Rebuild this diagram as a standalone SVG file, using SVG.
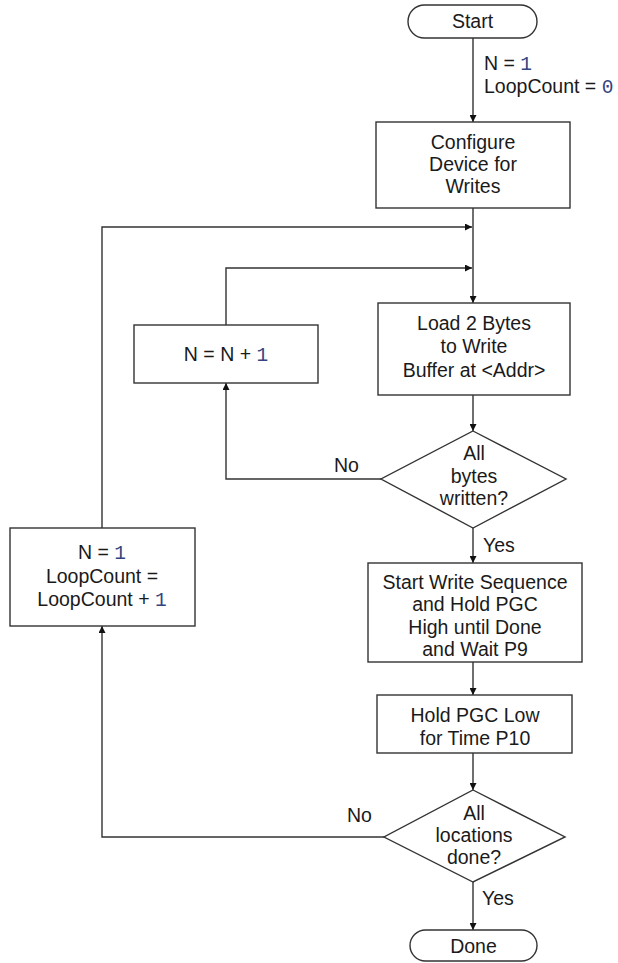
<svg xmlns="http://www.w3.org/2000/svg" width="618" height="963" viewBox="0 0 618 963">
  <defs>
    <marker id="arrow" viewBox="0 0 10 10" refX="10" refY="5" markerWidth="10" markerHeight="7" markerUnits="userSpaceOnUse" orient="auto">
      <path d="M0,0 L10,5 L0,10 z" fill="#111"/>
    </marker>
    <style>
      .shape { fill: #fff; stroke: #333; stroke-width: 1.4; }
      .line { fill: none; stroke: #333; stroke-width: 1.4; }
      text { font-family: "Liberation Sans", Arial, sans-serif; font-size: 19.5px; fill: #1a1a1a; }
      .c { text-anchor: middle; }
      .num { font-family: "Liberation Mono", "Courier New", monospace; fill: #34447f; }
    </style>
  </defs>
  <rect width="618" height="963" fill="#fff"/>

  <!-- connectors -->
  <g id="connectors">
    <path class="line" d="M473,38 V122" marker-end="url(#arrow)"/>
    <path class="line" d="M473,208 V303" marker-end="url(#arrow)"/>
    <path class="line" d="M102,528 V227 H472" marker-end="url(#arrow)"/>
    <path class="line" d="M226,325 V268 H472" marker-end="url(#arrow)"/>
    <path class="line" d="M473,395 V431" marker-end="url(#arrow)"/>
    <path class="line" d="M381,479 H226 V383" marker-end="url(#arrow)"/>
    <path class="line" d="M473,528 V563" marker-end="url(#arrow)"/>
    <path class="line" d="M473,662 V695" marker-end="url(#arrow)"/>
    <path class="line" d="M473,753 V790" marker-end="url(#arrow)"/>
    <path class="line" d="M384,837 H102 V626" marker-end="url(#arrow)"/>
    <path class="line" d="M473,882 V930" marker-end="url(#arrow)"/>
    <text x="484" y="70">N = <tspan class="num">1</tspan></text>
    <text x="484" y="93">LoopCount = <tspan class="num">0</tspan></text>
    <text x="334" y="472">No</text>
    <text x="483" y="552">Yes</text>
    <text x="347" y="822">No</text>
    <text x="482" y="905">Yes</text>
  </g>

  <g id="start">
    <rect class="shape" x="408" y="5" width="129" height="33" rx="16.5"/>
    <text class="c" x="472.5" y="28">Start</text>
  </g>

  <g id="configure">
    <rect class="shape" x="376" y="122" width="194" height="86"/>
    <text class="c" x="473" y="149">Configure</text>
    <text class="c" x="473" y="171">Device for</text>
    <text class="c" x="473" y="193">Writes</text>
  </g>

  <g id="load">
    <rect class="shape" x="378" y="303" width="192" height="92"/>
    <text class="c" x="474" y="330">Load 2 Bytes</text>
    <text class="c" x="474" y="353">to Write</text>
    <text class="c" x="474" y="377">Buffer at &lt;Addr&gt;</text>
  </g>

  <g id="increment">
    <rect class="shape" x="134" y="325" width="184" height="58"/>
    <text class="c" x="226" y="361">N = N + <tspan class="num">1</tspan></text>
  </g>

  <g id="bytes-written">
    <polygon class="shape" points="473,431 566,479 473,528 381,479"/>
    <text class="c" x="474" y="460">All</text>
    <text class="c" x="474" y="483">bytes</text>
    <text class="c" x="474" y="505">written?</text>
  </g>

  <g id="reset">
    <rect class="shape" x="10" y="528" width="185" height="98"/>
    <text class="c" x="102" y="559">N = <tspan class="num">1</tspan></text>
    <text class="c" x="102" y="583">LoopCount =</text>
    <text class="c" x="102" y="606">LoopCount + <tspan class="num">1</tspan></text>
  </g>

  <g id="write-sequence">
    <rect class="shape" x="368" y="563" width="214" height="99"/>
    <text class="c" x="475" y="589">Start Write Sequence</text>
    <text class="c" x="475" y="611">and Hold PGC</text>
    <text class="c" x="475" y="634">High until Done</text>
    <text class="c" x="475" y="656">and Wait P9</text>
  </g>

  <g id="hold-low">
    <rect class="shape" x="377" y="695" width="195" height="58"/>
    <text class="c" x="475" y="722">Hold PGC Low</text>
    <text class="c" x="475" y="745">for Time P10</text>
  </g>

  <g id="locations-done">
    <polygon class="shape" points="473,790 565,837 473,882 384,837"/>
    <text class="c" x="474" y="820">All</text>
    <text class="c" x="474" y="842">locations</text>
    <text class="c" x="474" y="864">done?</text>
  </g>

  <g id="done">
    <rect class="shape" x="410" y="930" width="127" height="31" rx="15.5"/>
    <text class="c" x="473.5" y="953">Done</text>
  </g>
</svg>
